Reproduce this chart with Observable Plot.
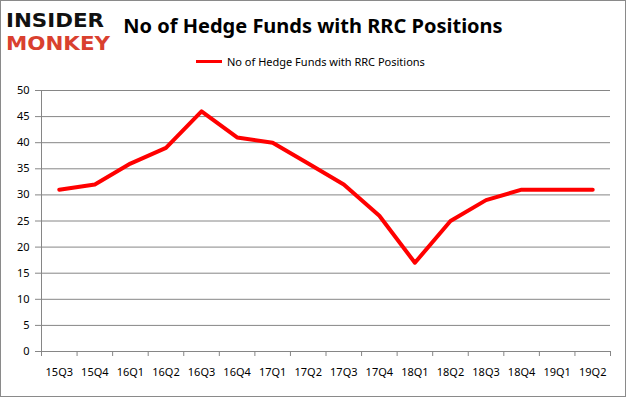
<!DOCTYPE html>
<html>
<head>
<meta charset="utf-8">
<script src="https://cdn.jsdelivr.net/npm/d3@7"></script>
<script src="https://cdn.jsdelivr.net/npm/@observablehq/plot@0.6"></script>
<style>
  html, body { margin: 0; padding: 0; background: #fff; }
  #wrap { position: relative; width: 626px; height: 397px; overflow: hidden; background: #fff; font-family: "Noto Sans", "DejaVu Sans", sans-serif; }
  #chart { position: absolute; left: 0; top: 0; }
  #title { position: absolute; left: 0; width: 626px; top: 12px; text-align: center; font-weight: bold; font-size: 20px; color: #000; box-sizing: border-box; }
  #legend { position: absolute; top: 54px; left: 196px; font-size: 11px; color: #000; display: flex; align-items: center; }
  #legend .sw { width: 26px; height: 3px; background: #ff0000; margin-right: 5px; }
  #logo { position: absolute; left: 5px; top: 6px; }
  #frame { position: absolute; left: 0; top: 0; width: 626px; height: 397px; border: 1px solid #8a8a8a; box-sizing: border-box; pointer-events: none; }
</style>
</head>
<body>
<div id="wrap">
  <svg id="logo" width="110" height="48" viewBox="0 0 110 48">
    <text x="1" y="21" font-family="DejaVu Sans" font-weight="bold" font-size="19" fill="#111" textLength="98" lengthAdjust="spacingAndGlyphs">INSIDER</text>
    <text x="1" y="44" font-family="DejaVu Sans" font-weight="bold" font-size="19" fill="#d9402f" textLength="104" lengthAdjust="spacingAndGlyphs">MONKEY</text>
  </svg>
  <div id="title">No of Hedge Funds with RRC Positions</div>
  <div id="legend"><div class="sw"></div><span>No of Hedge Funds with RRC Positions</span></div>
  <div id="chart"></div>
  <div id="frame"></div>
</div>
<script>
const quarters = ["15Q3","15Q4","16Q1","16Q2","16Q3","16Q4","17Q1","17Q2","17Q3","17Q4","18Q1","18Q2","18Q3","18Q4","19Q1","19Q2"];
const funds = [31, 32, 36, 39, 46, 41, 40, 36, 32, 26, 17, 25, 29, 31, 31, 31];
const yTicks = [0, 5, 10, 15, 20, 25, 30, 35, 40, 45, 50];

const data = quarters.map((q, i) => ({pos: i + 0.5, q, v: funds[i]}));
const bounds = d3.range(0, quarters.length + 1);
const gray = "#868686";

const chart = Plot.plot({
  width: 626,
  height: 397,
  marginTop: 90,
  marginBottom: 46,
  marginLeft: 41,
  marginRight: 16,
  style: {fontFamily: "'Noto Sans', 'DejaVu Sans', sans-serif", fontSize: "11px", color: "#000", background: "transparent", overflow: "visible"},
  x: {type: "linear", domain: [0, quarters.length]},
  y: {domain: [0, 50]},
  marks: [
    Plot.gridY(yTicks, {stroke: gray, strokeOpacity: 1}),
    Plot.ruleX([0], {stroke: gray}),
    Plot.ruleY([0], {stroke: gray}),
    Plot.axisY({ticks: yTicks, tickSize: 6, tickPadding: 6, label: null, stroke: gray, strokeOpacity: 1}),
    Plot.axisX({ticks: bounds, tickFormat: () => "", tickSize: 5, label: null, stroke: gray, strokeOpacity: 1}),
    Plot.axisX({ticks: data.map(d => d.pos), tickFormat: (d) => quarters[Math.floor(d)], tickSize: 0, tickPadding: 17, label: null}),
    Plot.line(data, {x: "pos", y: "v", stroke: "#ff0000", strokeWidth: 4})
  ]
});
document.getElementById("chart").appendChild(chart);
</script>
</body>
</html>
